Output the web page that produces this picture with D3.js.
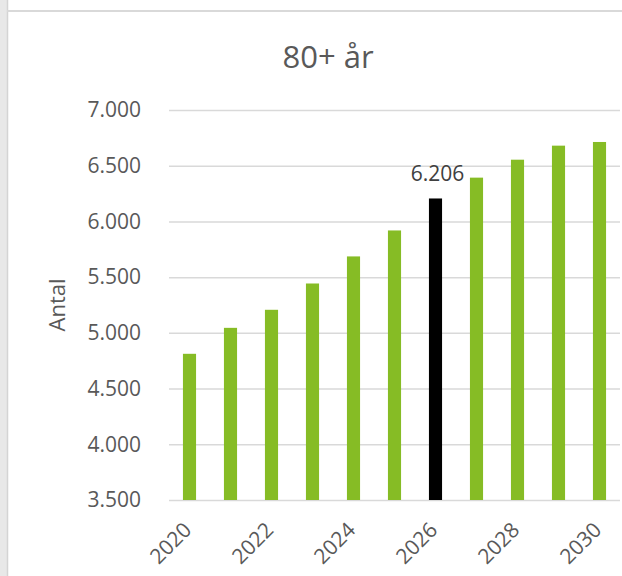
<!DOCTYPE html>
<html>
<head>
<meta charset="utf-8">
<script src="https://cdn.jsdelivr.net/npm/d3@7"></script>
<style>
    body {margin:0; background:#fff;}
    text {font-family:"Open Sans","Noto Sans",sans-serif;}
</style>
</head>
<body>
<div id="chart"></div>
<script>
// values
var years=['2020','2021','2022','2023','2024','2025','2026','2027','2028','2029','2030'];
var antal=[4812,5045,5207,5443,5686,5919,6206,6393,6554,6680,6713];
var highlight_year='2026';
var y_ticks=[3500,4000,4500,5000,5500,6000,6500,7000];
var x_tick_labels=['2020','2022','2024','2026','2028','2030'];

var W=622, H=576;
var plot={left:169,right:620,top:110,bottom:500};

var svg=d3.select('#chart').append('svg')
    .attr('width',W)
    .attr('height',H);

// frame of the surrounding sheet
svg.append('rect').attr('x',0).attr('y',0).attr('width',7).attr('height',H).attr('fill','#e8e8e8');
svg.append('line').attr('x1',7.5).attr('x2',7.5).attr('y1',0).attr('y2',H)
    .attr('stroke','#d4d4d4').attr('stroke-width',1.5);
svg.append('line').attr('x1',7).attr('x2',W).attr('y1',11).attr('y2',11)
    .attr('stroke','#d9d9d9').attr('stroke-width',2);

var xscale=d3.scaleBand()
    .domain(years)
    .range([plot.left,plot.right])
    .paddingInner(0.68)
    .paddingOuter(0.34);

var yscale=d3.scaleLinear()
    .domain([3500,7000])
    .range([plot.bottom,plot.top]);

var fmt=function(v) {return d3.format(',')(v).replace(/,/g,'.');};

// gridlines + y labels
var y_axis=d3.axisLeft(yscale)
    .tickValues(y_ticks)
    .tickSize(-(plot.right-plot.left))
    .tickPadding(28)
    .tickFormat(fmt);

var gy=svg.append('g')
    .attr('transform','translate('+plot.left+',0)')
    .call(y_axis);
gy.select('.domain').remove();
gy.selectAll('.tick line').attr('stroke','#d9d9d9').attr('stroke-width',1.5);
gy.selectAll('.tick text')
    .attr('fill','#595959')
    .style('font-size','21px');

// bars
svg.append('g').selectAll('rect')
    .data(years)
    .enter().append('rect')
    .attr('x',function(d) {return xscale(d);})
    .attr('width',xscale.bandwidth())
    .attr('y',function(d,i) {return yscale(antal[i]);})
    .attr('height',function(d,i) {return yscale(3500)-yscale(antal[i]);})
    .attr('fill',function(d) {return d==highlight_year ? '#000000' : '#86bc25';});

// data label on highlighted bar
var hi=years.indexOf(highlight_year);
svg.append('text')
    .attr('x',xscale(highlight_year)+xscale.bandwidth()/2+2)
    .attr('y',yscale(antal[hi])-17)
    .style('text-anchor','middle')
    .style('font-size','21px')
    .attr('fill','#404040')
    .text(fmt(antal[hi]));

// x labels, rotated
var x_axis=d3.axisBottom(xscale)
    .tickValues(x_tick_labels)
    .tickSize(0)
    .tickPadding(0);
var gx=svg.append('g')
    .attr('transform','translate(0,'+plot.bottom+')')
    .call(x_axis);
gx.select('.domain').remove();
gx.selectAll('.tick text')
    .attr('fill','#595959')
    .style('font-size','21px')
    .style('text-anchor','end')
    .attr('dy','0.35em')
    .attr('transform','translate(-2,26) rotate(-45)');

// title
svg.append('text')
    .attr('x',328)
    .attr('y',68)
    .style('text-anchor','middle')
    .style('font-size','31px')
    .attr('fill','#595959')
    .text('80+ år');

// y axis title
svg.append('text')
    .attr('transform','translate(65,305) rotate(-90)')
    .style('text-anchor','middle')
    .style('font-size','22px')
    .attr('fill','#595959')
    .text('Antal');
</script>
</body>
</html>
